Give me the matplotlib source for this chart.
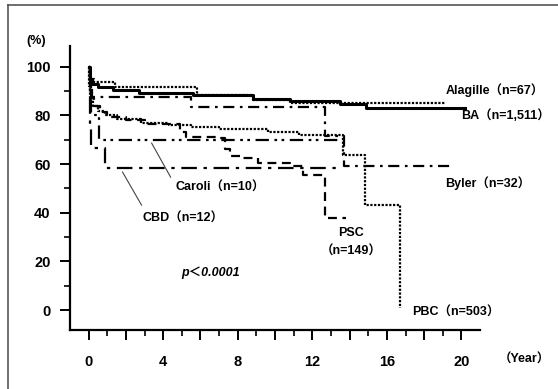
import matplotlib
matplotlib.use("Agg")
import matplotlib.pyplot as plt
from matplotlib.lines import Line2D

plt.rcParams['font.family'] = ['Liberation Sans', 'Noto Sans CJK JP', 'DejaVu Sans']
plt.rcParams['font.weight'] = 'bold'

# Kaplan-Meier survival (%) by disease, years after transplant
ba_years = [0, 0.05, 0.2, 0.5, 1.3, 2.7, 5.6, 8.8, 10.8, 13.5, 14.9, 20.2]
ba_surv = [100, 95, 93, 91.5, 90.3, 89.3, 88.3, 86.8, 86.0, 84.5, 83.0, 83.0]

alagille_years = [0, 0.1, 0.3, 1.4, 5.8, 8.8, 10.8, 19.1]
alagille_surv = [100, 95, 93.8, 91.6, 88.4, 86.2, 85.2, 85.2]

byler_years = [0, 0.1, 0.2, 5.5, 12.7, 13.7, 19.4]
byler_surv = [100, 93.8, 87.5, 83.5, 71.5, 59.3, 59.3]

caroli_years = [0, 0.08, 0.15, 0.55, 13.5]
caroli_surv = [100, 90, 80, 70, 70]

cbd_years = [0, 0.05, 0.1, 0.15, 0.9, 13.3]
cbd_surv = [100, 91.7, 75.0, 66.7, 58.3, 58.3]

psc_years = [0, 0.05, 0.15, 0.3, 0.6, 1.0, 2.0, 3.0, 4.9, 5.2, 7.0, 7.3, 7.6,
             8.3, 9.1, 10.8, 11.5, 12.7, 13.8]
psc_surv = [100, 92, 87, 84, 81.5, 79.5, 78, 76.5, 73, 71, 70.5, 66, 63.5,
            62.5, 60.5, 59, 55.4, 38, 38]

pbc_years = [0, 0.03, 0.1, 0.25, 0.5, 0.9, 1.5, 2.8, 4.3, 5.5, 7.0, 9.6,
             11.3, 13.65, 14.8, 16.7]
pbc_surv = [100, 92, 87, 84, 82, 80, 78.4, 77, 76, 75.2, 74.6, 73.2,
            72, 63.7, 43, 1]


def draw_curve(ax, years, surv, dashes, lw=1.6):
    line, = ax.plot(years, surv, drawstyle='steps-post', color='black', lw=lw)
    if dashes:
        line.set_dashes(dashes)
        line.set_dash_capstyle('butt')
    return line


def label(ax, x, y, s, **kw):
    ax.text(x, y, s, fontsize=9, fontweight='bold', va='center',
            clip_on=False, **kw)


fig = plt.figure(figsize=(5.58, 3.89), dpi=100)
ax = fig.add_axes([0.1254, 0.1517, 0.735, 0.73])

draw_curve(ax, pbc_years, pbc_surv, (1.0, 0.7))
draw_curve(ax, psc_years, psc_surv, (4, 2.5))
draw_curve(ax, cbd_years, cbd_surv, (7, 3, 1.5, 3))
draw_curve(ax, caroli_years, caroli_surv, (6, 2.5, 1.2, 2, 1.2, 2.5))
draw_curve(ax, byler_years, byler_surv, (5, 2.5, 1.2, 2.5))
draw_curve(ax, alagille_years, alagille_surv, (1.0, 0.7))
draw_curve(ax, ba_years, ba_surv, None, lw=2.2)

ax.set_xlim(-1, 21)
ax.set_ylim(-8.2, 108.5)

for side in ['top', 'right']:
    ax.spines[side].set_visible(False)
for side in ['left', 'bottom']:
    ax.spines[side].set_linewidth(1.6)

ax.set_yticks(range(0, 101, 20))
ax.set_yticks(range(10, 100, 20), minor=True)
ax.set_xticks(range(0, 21, 2))
ax.set_xticklabels([str(v) if v % 4 == 0 else '' for v in range(0, 21, 2)])
ax.set_xticks(range(1, 21, 2), minor=True)
ax.tick_params(axis='both', which='major', direction='out', length=7,
               width=1.4, labelsize=10.5)
ax.tick_params(axis='both', which='minor', direction='out', length=4,
               width=1.2)
ax.tick_params(axis='x', which='major', pad=11)
ax.tick_params(axis='y', which='major', pad=7)
for t in ax.get_xticklabels() + ax.get_yticklabels():
    t.set_fontweight('bold')

# group names beside the curves
label(ax, 19.14, 90.3, 'Alagille（n=67）')
label(ax, 20.0, 80.1, 'BA（n=1,511）')
label(ax, 19.14, 52.2, 'Byler（n=32）')
label(ax, 4.66, 50.1, 'Caroli（n=10）')
label(ax, 2.9, 37.4, 'CBD（n=12）')
label(ax, 14.1, 31.6, 'PSC', ha='center')
label(ax, 14.1, 23.8, '（n=149）', ha='center')
label(ax, 17.37, -1.2, 'PBC（n=503）')
label(ax, 4.99, 15.2, 'p＜0.0001', style='italic')

# pointer lines for the two small groups
ax.plot([3.38, 4.40], [68.6, 54.6], color='#444444', lw=0.8)
ax.plot([1.82, 2.84], [56.7, 43.1], color='#444444', lw=0.8)

ax.text(-2.79, 110.5, '(%)', fontsize=9, fontweight='bold', ha='center',
        va='center', clip_on=False)
label(ax, 22.0, -20.5, '（Year）')

# frame around the figure
fig.add_artist(Line2D([8 / 558, 8 / 558], [0, 1 - 5 / 389], color='#555555', lw=1.2))
fig.add_artist(Line2D([8 / 558, 1], [1 - 5 / 389, 1 - 5 / 389], color='#555555', lw=1.2))

fig.savefig('out.png', dpi=100)
